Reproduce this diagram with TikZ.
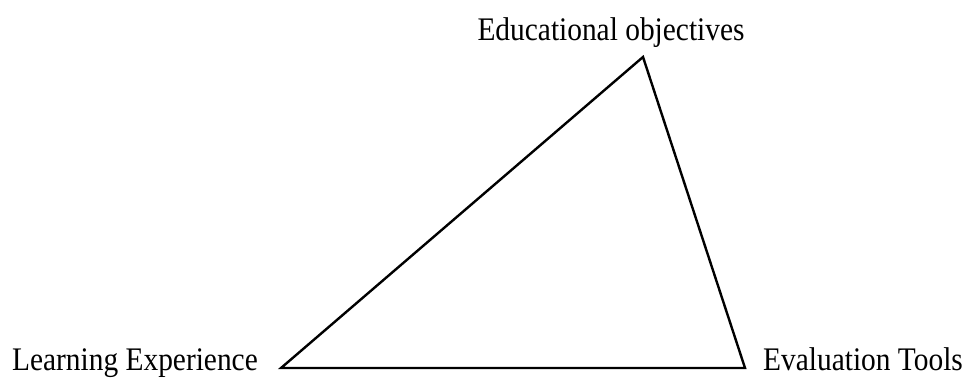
\documentclass[tikz,border=0pt]{standalone}
\usepackage{fontspec}
\setmainfont{Liberation Serif}

% tall, narrow lettering of the labels
\newcommand{\tallText}[1]{\scalebox{1}[1.12]{#1}}

\begin{document}
\begin{tikzpicture}[
    x=1pt, y=-1pt,
    edge/.style={draw=black, line width=2.4pt, line join=miter},
    corner label/.style={font=\fontsize{29.4}{32}\selectfont, inner sep=0pt}
]
    \path[use as bounding box] (0,0) rectangle (973,378);

    % corners of the triangle
    \coordinate (objectives) at (643,57);
    \coordinate (experience) at (281,368);
    \coordinate (evaluation) at (745,368);

    \draw[edge] (objectives) -- (experience) -- (evaluation) -- cycle;

    \node[corner label, anchor=base] (objectives-label) at (611,40)
        {\tallText{Educational objectives}};
    \node[corner label, anchor=base east] (experience-label) at (258,370)
        {\tallText{Learning Experience}};
    \node[corner label, anchor=base west] (evaluation-label) at (763,370)
        {\tallText{Evaluation Tools}};
\end{tikzpicture}
\end{document}
